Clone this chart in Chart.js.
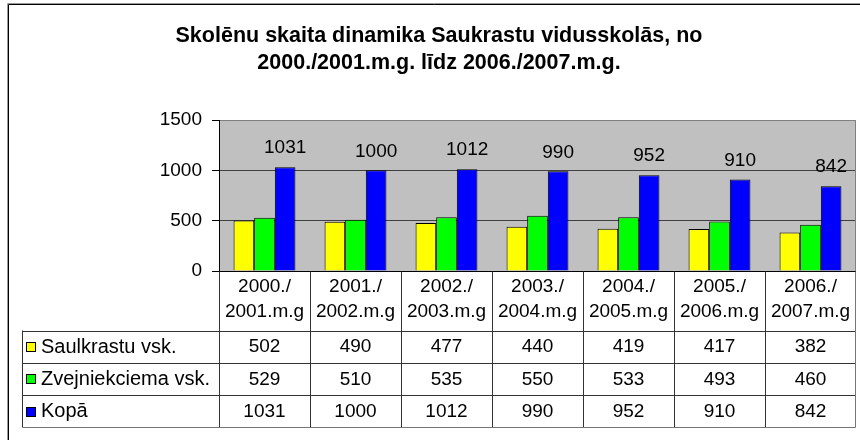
<!DOCTYPE html>
<html>
<head>
<meta charset="utf-8">
<script src="https://cdn.jsdelivr.net/npm/chart.js@4/dist/chart.umd.min.js"></script>
<style>
  html, body { margin: 0; padding: 0; background: #fff; }
  #wrap { width: 860px; height: 440px; position: relative; }
</style>
</head>
<body>
<div id="wrap"><canvas id="c" width="860" height="440"></canvas></div>
<script>
const titleLines = ['Skolēnu skaita dinamika Saukrastu vidusskolās, no', '2000./2001.m.g. līdz 2006./2007.m.g.'];
const categories = [
  ['2000./', '2001.m.g'],
  ['2001./', '2002.m.g'],
  ['2002./', '2003.m.g'],
  ['2003./', '2004.m.g'],
  ['2004./', '2005.m.g'],
  ['2005./', '2006.m.g'],
  ['2006./', '2007.m.g']
];
const seriesNames = ['Saulkrastu vsk.', 'Zvejniekciema vsk.', 'Kopā'];
const saulkrastu = [502, 490, 477, 440, 419, 417, 382];
const zvejniekciema = [529, 510, 535, 550, 533, 493, 460];
const kopa = [1031, 1000, 1012, 990, 952, 910, 842];
const seriesColors = ['#FFFF00', '#00FF00', '#0000FF'];
const yMin = 0, yMax = 1500, yStep = 500;

const FONT = 'Arial, "Liberation Sans", Helvetica, sans-serif';
const FS = 19;

const bgPlugin = {
  id: 'bg',
  beforeDraw(chart) {
    const ctx = chart.ctx, a = chart.chartArea;
    ctx.save();
    ctx.fillStyle = '#fff';
    ctx.fillRect(0, 0, chart.width, chart.height);
    // outer frame (cropped at right and bottom)
    ctx.strokeStyle = '#999';
    ctx.lineWidth = 1;
    ctx.beginPath();
    ctx.moveTo(7.5, 440); ctx.lineTo(7.5, 3.5); ctx.lineTo(860, 3.5);
    ctx.stroke();
    ctx.strokeStyle = '#000';
    ctx.beginPath();
    ctx.moveTo(8.5, 440); ctx.lineTo(8.5, 4.5); ctx.lineTo(860, 4.5);
    ctx.stroke();
    // plot area background
    ctx.fillStyle = '#C0C0C0';
    ctx.fillRect(a.left, a.top, a.right - a.left, a.bottom - a.top);
    ctx.restore();
  },
  afterDatasetsDraw(chart) {
    const ctx = chart.ctx, a = chart.chartArea;
    ctx.save();
    // right border of plot area
    ctx.strokeStyle = '#808080';
    ctx.lineWidth = 1;
    ctx.beginPath();
    ctx.moveTo(Math.round(a.right) - 0.5, a.top);
    ctx.lineTo(Math.round(a.right) - 0.5, a.bottom);
    ctx.stroke();
    // x axis line
    ctx.strokeStyle = '#000';
    ctx.beginPath();
    ctx.moveTo(a.left, Math.round(a.bottom) + 0.5);
    ctx.lineTo(a.right, Math.round(a.bottom) + 0.5);
    ctx.stroke();
    // data labels on Kopā
    const meta = chart.getDatasetMeta(2);
    ctx.fillStyle = '#000';
    ctx.font = FS + 'px ' + FONT;
    ctx.textAlign = 'center';
    ctx.textBaseline = 'middle';
    meta.data.forEach((bar, i) => {
      ctx.fillText(String(kopa[i]), bar.x, bar.y - 19);
    });
    ctx.restore();
  }
};

const tablePlugin = {
  id: 'dataTable',
  afterDraw(chart) {
    const ctx = chart.ctx, a = chart.chartArea, xs = chart.scales.x;
    const n = categories.length;
    const cw = (a.right - a.left) / n;
    const top = Math.round(a.bottom) + 0.5;
    const headerBottom = 330.5;
    const rowH = 32.3;
    const bottom = headerBottom + rowH * 3;
    const legendLeft = 22.5;
    const right = Math.round(a.right) - 0.5;
    const rows = [saulkrastu, zvejniekciema, kopa];
    ctx.save();
    ctx.lineWidth = 1;
    ctx.strokeStyle = '#333';
    // horizontal lines
    ctx.beginPath();
    for (let r = 0; r < 3; r++) {
      const y = Math.round(headerBottom + rowH * r) + 0.5;
      ctx.moveTo(legendLeft, y); ctx.lineTo(right, y);
    }
    ctx.stroke();
    // vertical lines
    ctx.beginPath();
    ctx.moveTo(legendLeft, headerBottom); ctx.lineTo(legendLeft, Math.round(bottom) + 0.5);
    for (let i = 0; i < n; i++) {
      const x = Math.round(xs.getPixelForValue(i) - cw / 2) + 0.5;
      ctx.moveTo(x, top); ctx.lineTo(x, Math.round(bottom) + 0.5);
    }
    ctx.stroke();
    // outer right / bottom (lighter)
    ctx.strokeStyle = '#777';
    ctx.beginPath();
    ctx.moveTo(right, top); ctx.lineTo(right, Math.round(bottom) + 0.5);
    ctx.moveTo(legendLeft, Math.round(bottom) + 0.5); ctx.lineTo(right, Math.round(bottom) + 0.5);
    ctx.stroke();
    // header text
    ctx.fillStyle = '#000';
    ctx.font = FS + 'px ' + FONT;
    ctx.textAlign = 'center';
    ctx.textBaseline = 'middle';
    categories.forEach((lab, i) => {
      const cx = xs.getPixelForValue(i);
      ctx.fillText(lab[0], cx, 287);
      ctx.fillText(lab[1], cx, 312);
    });
    // rows
    rows.forEach((vals, r) => {
      const cy = headerBottom + rowH * r + rowH / 2 + 0.5;
      ctx.font = FS + 'px ' + FONT;
      vals.forEach((v, i) => {
        ctx.fillText(String(v), xs.getPixelForValue(i), cy);
      });
      // legend key
      ctx.fillStyle = seriesColors[r];
      ctx.fillRect(26, Math.round(cy - 5), 10, 10);
      ctx.strokeStyle = '#000';
      ctx.strokeRect(26.5, Math.round(cy - 5) + 0.5, 9, 9);
      ctx.fillStyle = '#000';
      ctx.textAlign = 'left';
      ctx.font = '20px ' + FONT;
      ctx.fillText(seriesNames[r], 41, cy);
      ctx.textAlign = 'center';
    });
    ctx.restore();
  }
};

new Chart(document.getElementById('c'), {
  type: 'bar',
  data: {
    labels: categories,
    datasets: [
      { label: seriesNames[0], data: saulkrastu, backgroundColor: seriesColors[0] },
      { label: seriesNames[1], data: zvejniekciema, backgroundColor: seriesColors[1] },
      { label: seriesNames[2], data: kopa, backgroundColor: seriesColors[2] }
    ].map(d => Object.assign(d, { borderColor: '#000', borderWidth: 1, categoryPercentage: 0.68, barPercentage: 1.0 }))
  },
  options: {
    responsive: false,
    animation: false,
    devicePixelRatio: 1,
    layout: { padding: { left: 22, right: 4, top: 0, bottom: 169 } },
    plugins: {
      legend: { display: false },
      tooltip: { enabled: false },
      title: {
        display: true,
        text: titleLines,
        color: '#000',
        font: { family: FONT, size: 21.5, weight: 'bold', lineHeight: 1.28 },
        padding: { top: 22, bottom: 43 }
      }
    },
    scales: {
      x: { display: false },
      y: {
        min: yMin, max: yMax,
        afterFit(scale) { scale.width = 197; },
        ticks: {
          stepSize: yStep, color: '#000', padding: 10,
          font: { family: FONT, size: FS },
          callback: v => String(v)
        },
        border: { display: true, color: '#000', width: 1 },
        grid: {
          drawTicks: true, tickLength: 7, tickColor: '#000',
          color: ctx => ctx.tick && ctx.tick.value === yMax ? '#808080' : (ctx.tick && ctx.tick.value === 0 ? '#000' : '#404040'),
          lineWidth: 1
        }
      }
    }
  },
  plugins: [bgPlugin, tablePlugin]
});
</script>
</body>
</html>
